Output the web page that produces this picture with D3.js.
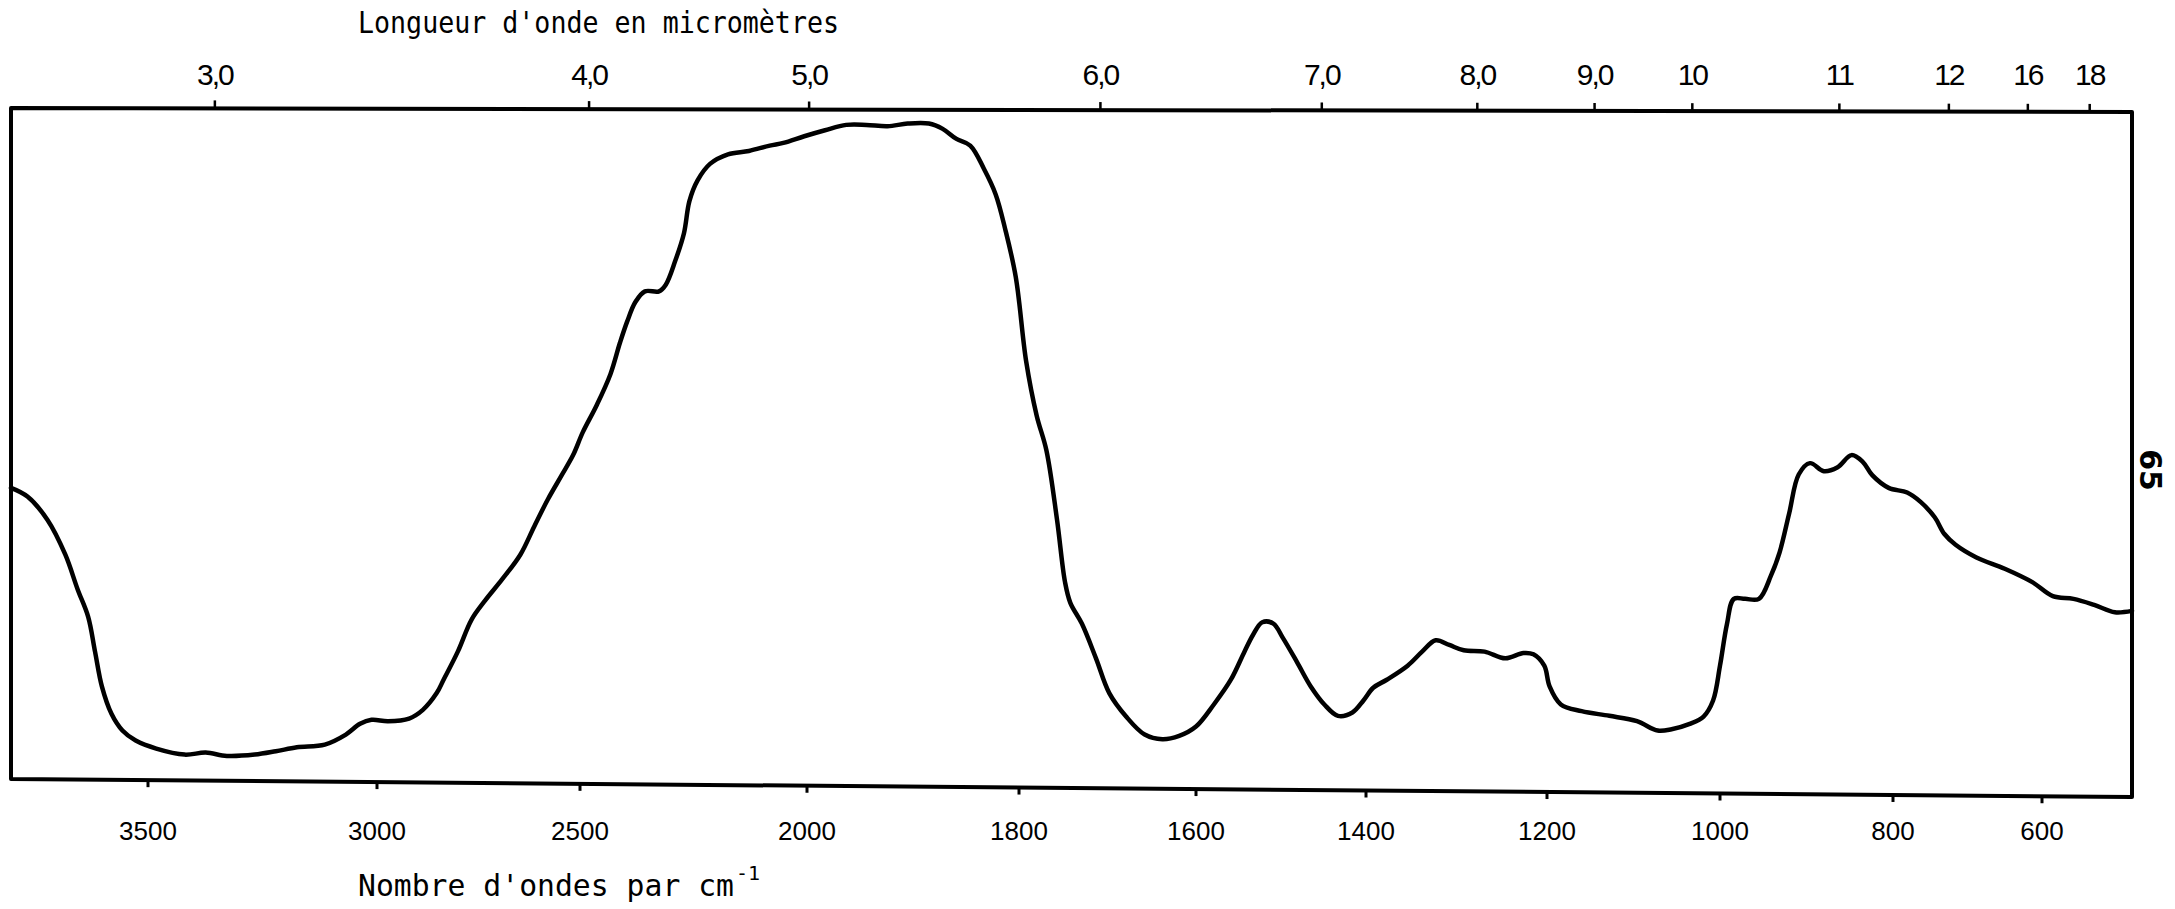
<!DOCTYPE html>
<html lang="fr">
<head>
<meta charset="UTF-8">
<title>Spectre infrarouge</title>
<script src="https://d3js.org/d3.v7.min.js"></script>
<style>
  body{margin:0;background:#fff;}
  svg{display:block;}
  .lbl-bottom{font-family:"Liberation Sans",Arial,sans-serif;font-size:26px;}
  .lbl-top{font-family:"Liberation Sans Narrow","Liberation Sans",Arial,sans-serif;font-size:30px;letter-spacing:-2px;}
  .title{font-family:"DejaVu Sans Mono",monospace;font-size:30px;}
</style>
</head>
<body>
<svg id="chart"></svg>
<script>
// wavenumber (cm-1) / transmittance (%)
const wavenumbers = [3800,3764,3720,3681,3654,3631,3616,3601,3580,3556,3527,3482,3420,3374,3328,3267,3221,3175,3114,3068,
  3037,3012,2973,2921,2887,2853,2836,2801,2767,2733,2692,2647,2613,2579,2545,2517,2494,2463,2433,2412,
  2396,2378,2357,2326,2311,2290,2271,2259,2241,2213,2174,2128,2082,2052,2006,1983,1963,1944,1924,1905,
  1885,1872,1859,1846,1833,1822,1813,1803,1792,1780,1769,1757,1748,1742,1729,1713,1698,1679,1658,1638,
  1619,1600,1579,1559,1543,1533,1522,1509,1498,1481,1465,1449,1433,1416,1403,1392,1377,1354,1338,1323,
  1308,1292,1269,1246,1226,1215,1203,1197,1184,1160,1128,1096,1072,1056,1035,1019,1008,1000,992,984,
  971,955,941,931,920,909,896,880,864,848,835,824,805,781,763,744,731,716,688,650,
  613,588,565,542,519,500];
const transmittance = [43.1,41.8,38.3,33.1,27.9,23.8,18.6,13.4,9.3,6.8,5.3,4.1,3.2,3.5,3.0,3.2,3.7,4.3,4.7,6.2,
  7.8,8.4,8.2,8.6,9.9,12.4,14.4,18.6,23.4,26.3,29.4,33.1,37.3,41.4,45.0,48.0,51.4,55.5,60.1,64.8,
  68.0,70.9,72.5,72.5,73.5,77.1,81.2,86.0,89.1,91.6,93.0,93.5,94.3,94.7,95.7,96.6,97.4,97.4,97.2,97.6,
  97.6,96.8,95.3,94.3,90.8,87.0,81.8,74.6,62.1,53.9,48.7,38.3,29.0,25.9,22.8,17.6,12.4,8.9,6.2,5.5,
  6.0,7.4,10.7,14.4,18.6,21.1,23.0,22.8,20.7,17.0,13.4,10.7,9.0,9.5,11.3,13.2,14.4,16.5,18.6,20.3,
  19.6,18.8,18.6,17.6,18.4,18.2,16.5,13.4,10.7,9.7,9.0,8.2,6.8,7.0,7.8,8.9,11.3,16.5,22.7,26.5,
  26.5,26.5,30.0,33.5,39.3,45.1,46.8,45.6,46.2,48.0,47.0,45.0,43.1,42.4,41.0,38.7,36.2,34.6,32.7,31.0,
  29.0,26.9,26.5,25.6,24.5,24.7];

const bottomTicks = [3500,3000,2500,2000,1800,1600,1400,1200,1000,800,600];
// top scale: wavelength labels and the wavenumber each mark sits on
const topTickLabels = ["3,0","4,0","5,0","6,0","7,0","8,0","9,0","10","11","12","16","18"];
const topTickValues = [3354,2480,1998,1708,1452,1277,1145,1032,862,725,619,547];

const W = 2175, H = 909;
const svg = d3.select("#chart").attr("width", W).attr("height", H);

// chart paper as printed: scale is not uniform, so go through every graduation
const x = d3.scaleLinear()
  .domain([3800, 3500, 3000, 2500, 2000, 1800, 1600, 1400, 1200, 1000, 800, 600, 500])
  .range([11, 148, 377, 580, 807, 1019, 1196, 1366, 1547, 1720, 1893, 2042, 2132]);
const y = d3.scaleLinear().domain([0, 100]).range([776, 107.5]);

// the scanned frame is slightly tilted
const topY = [108, 112], botY = [779, 797];
const xl = x.range()[0], xr = x.range()[x.range().length - 1];
const along = (ends, px) => ends[0] + (ends[1] - ends[0]) * (px - xl) / (xr - xl);

svg.append("path")
  .attr("d", `M${xl},${topY[0]}L${xr},${topY[1]}L${xr},${botY[1]}L${xl},${botY[0]}Z`)
  .attr("fill", "none").attr("stroke", "#000").attr("stroke-width", 4)
  .attr("stroke-linejoin", "round");

// bottom ticks and labels
const gb = svg.append("g");
gb.selectAll("line").data(bottomTicks).join("line")
  .attr("x1", d => x(d)).attr("x2", d => x(d))
  .attr("y1", d => along(botY, x(d))).attr("y2", d => along(botY, x(d)) + 7)
  .attr("stroke", "#000").attr("stroke-width", 3);
gb.selectAll("text").data(bottomTicks).join("text")
  .attr("class", "lbl-bottom")
  .attr("x", d => x(d)).attr("y", 840)
  .attr("text-anchor", "middle")
  .text(d => d);

// top ticks and labels
const gt = svg.append("g");
gt.selectAll("line").data(topTickValues).join("line")
  .attr("x1", d => x(d)).attr("x2", d => x(d))
  .attr("y1", d => along(topY, x(d))).attr("y2", d => along(topY, x(d)) - 8)
  .attr("stroke", "#000").attr("stroke-width", 2.5);
gt.selectAll("text").data(topTickValues).join("text")
  .attr("class", "lbl-top")
  .attr("x", d => x(d)).attr("y", 85)
  .attr("text-anchor", "middle")
  .text((d, i) => topTickLabels[i]);

// the trace
const pts = wavenumbers.map((w, i) => [w, transmittance[i]]);
svg.append("path")
  .datum(pts)
  .attr("fill", "none").attr("stroke", "#000").attr("stroke-width", 4.5)
  .attr("stroke-linejoin", "round").attr("stroke-linecap", "round")
  .attr("d", d3.line().x(d => x(d[0])).y(d => y(d[1])).curve(d3.curveCatmullRom.alpha(0.5)));

// titles
svg.append("text").attr("class", "title")
  .attr("x", 358).attr("y", 33)
  .attr("textLength", 481).attr("lengthAdjust", "spacingAndGlyphs")
  .text("Longueur d'onde en micromètres");

const bt = svg.append("text").attr("class", "title").attr("x", 358).attr("y", 896);
bt.append("tspan").attr("textLength", 376).attr("lengthAdjust", "spacingAndGlyphs")
  .text("Nombre d'ondes par cm");
bt.append("tspan").attr("dx", 2).attr("dy", -16).style("font-size", "20px").text("-1");

svg.append("text")
  .attr("transform", "translate(2150,470) rotate(90)")
  .attr("text-anchor", "middle").attr("dominant-baseline", "central")
  .style("font-family", "'DejaVu Sans',sans-serif").style("font-size", "30px").style("font-weight", "bold")
  .text("65");
</script>
</body>
</html>
